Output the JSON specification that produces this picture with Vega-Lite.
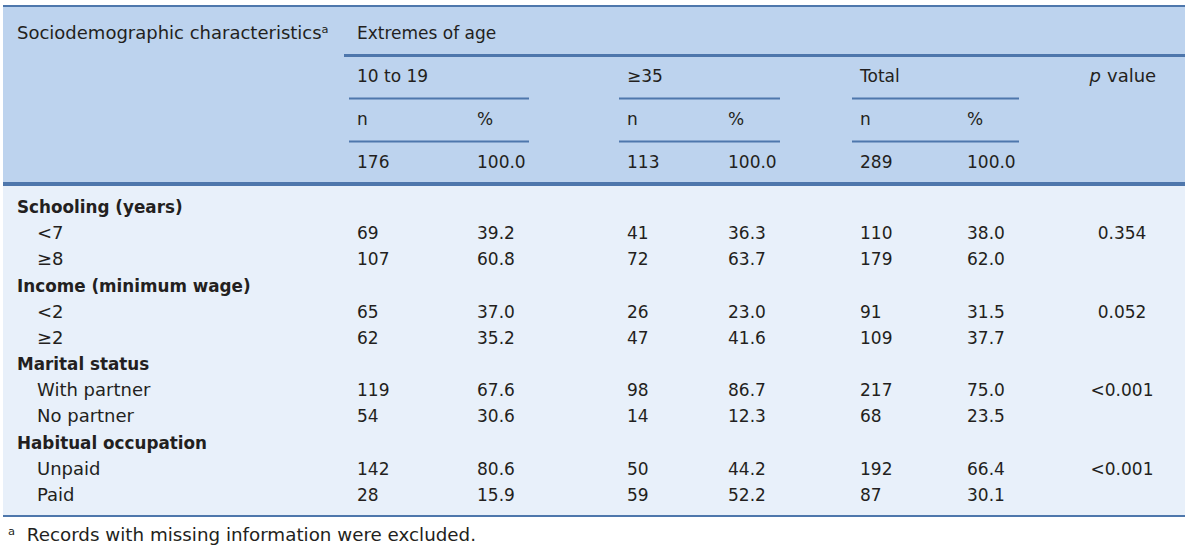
{
  "$schema": "https://vega.github.io/schema/vega-lite/v6.json",
  "width": 1200,
  "height": 551,
  "autosize": {"type": "fit", "contains": "padding"},
  "padding": 0,
  "background": "white",
  "config": {"view": {"stroke": null}, "text": {"font": "DejaVu Sans", "fontSize": 17, "color": "#231F20", "align": "left", "baseline": "middle"}},
  "datasets": {
    "table": [
      {"r": 1, "kind": "head", "label": "Sociodemographic characteristicsᵃ", "n1": "Extremes of age"},
      {"r": 2, "kind": "head", "n1": "10 to 19", "n2": "≥35", "n3": "Total", "pvi": "p", "pvr": "value"},
      {"r": 3, "kind": "head", "n1": "n", "p1": "%", "n2": "n", "p2": "%", "n3": "n", "p3": "%"},
      {"r": 4, "kind": "head", "n1": "176", "p1": "100.0", "n2": "113", "p2": "100.0", "n3": "289", "p3": "100.0"},
      {"r": 5, "kind": "cat", "label": "Schooling (years)"},
      {"r": 6, "kind": "sub", "label": "<7", "n1": "69", "p1": "39.2", "n2": "41", "p2": "36.3", "n3": "110", "p3": "38.0", "pv": "0.354"},
      {"r": 7, "kind": "sub", "label": "≥8", "n1": "107", "p1": "60.8", "n2": "72", "p2": "63.7", "n3": "179", "p3": "62.0"},
      {"r": 8, "kind": "cat", "label": "Income (minimum wage)"},
      {"r": 9, "kind": "sub", "label": "<2", "n1": "65", "p1": "37.0", "n2": "26", "p2": "23.0", "n3": "91", "p3": "31.5", "pv": "0.052"},
      {"r": 10, "kind": "sub", "label": "≥2", "n1": "62", "p1": "35.2", "n2": "47", "p2": "41.6", "n3": "109", "p3": "37.7"},
      {"r": 11, "kind": "cat", "label": "Marital status"},
      {"r": 12, "kind": "sub", "label": "With partner", "n1": "119", "p1": "67.6", "n2": "98", "p2": "86.7", "n3": "217", "p3": "75.0", "pv": "<0.001"},
      {"r": 13, "kind": "sub", "label": "No partner", "n1": "54", "p1": "30.6", "n2": "14", "p2": "12.3", "n3": "68", "p3": "23.5"},
      {"r": 14, "kind": "cat", "label": "Habitual occupation"},
      {"r": 15, "kind": "sub", "label": "Unpaid", "n1": "142", "p1": "80.6", "n2": "50", "p2": "44.2", "n3": "192", "p3": "66.4", "pv": "<0.001"},
      {"r": 16, "kind": "sub", "label": "Paid", "n1": "28", "p1": "15.9", "n2": "59", "p2": "52.2", "n3": "87", "p3": "30.1"},
      {"r": 17, "kind": "note", "label": "ᵃ\u00a0 Records with missing information were excluded."}
    ],
    "columns": [
      {"key": "n1", "c": 1}, {"key": "p1", "c": 2}, {"key": "n2", "c": 3}, {"key": "p2", "c": 4},
      {"key": "n3", "c": 5}, {"key": "p3", "c": 6}, {"key": "pv", "c": 7}
    ],
    "groups": [
      {"group": "10 to 19", "from": 1, "to": 2},
      {"group": "≥35", "from": 3, "to": 4},
      {"group": "Total", "from": 5, "to": 6}
    ]
  },
  "data": {"name": "table"},
  "layer": [
    {
      "mark": {"type": "rect", "color": "#BDD3EE"},
      "encoding": {
        "x": {"datum": -1, "type": "quantitative", "axis": null, "scale": {"type": "linear", "domain": [-1, 0, 1, 2, 3, 4, 5, 6, 7, 8], "range": [3, 17, 357, 477, 627, 728, 860, 967, 1122, 1185], "zero": false, "nice": false}},
        "x2": {"datum": 8},
        "y": {"datum": 0, "type": "quantitative", "axis": null, "scale": {"type": "linear", "domain": [0, 1, 4, 4.5, 5, 16, 16.5, 17], "range": [6, 34, 163, 184, 208, 496, 516, 536], "zero": false, "nice": false}},
        "y2": {"datum": 4.5}
      }
    },
    {
      "mark": {"type": "rect", "color": "#E8F0FA"},
      "encoding": {
        "x": {"datum": -1, "type": "quantitative"},
        "x2": {"datum": 8},
        "y": {"datum": 4.5, "type": "quantitative"},
        "y2": {"datum": 16.5}
      }
    },
    {
      "mark": {"type": "rule", "color": "#4E77AC", "strokeWidth": 2},
      "encoding": {"x": {"datum": -1, "type": "quantitative"}, "x2": {"datum": 8}, "y": {"datum": 0, "type": "quantitative"}}
    },
    {
      "mark": {"type": "rule", "color": "#4E77AC", "strokeWidth": 3},
      "encoding": {"x": {"datum": -1, "type": "quantitative"}, "x2": {"datum": 8}, "y": {"datum": 4.5, "type": "quantitative"}}
    },
    {
      "mark": {"type": "rule", "color": "#4E77AC", "strokeWidth": 2},
      "encoding": {"x": {"datum": -1, "type": "quantitative"}, "x2": {"datum": 8}, "y": {"datum": 16.5, "type": "quantitative"}}
    },
    {
      "mark": {"type": "rule", "color": "#4E77AC", "strokeWidth": 2, "xOffset": -13},
      "encoding": {"x": {"datum": 1, "type": "quantitative"}, "x2": {"datum": 8}, "y": {"datum": 1.5, "type": "quantitative"}}
    },
    {
      "data": {"name": "groups"},
      "mark": {"type": "rule", "color": "#4E77AC", "strokeWidth": 2, "xOffset": -8, "x2Offset": 52},
      "encoding": {"x": {"field": "from", "type": "quantitative"}, "x2": {"field": "to"}, "y": {"datum": 2.5, "type": "quantitative"}}
    },
    {
      "data": {"name": "groups"},
      "mark": {"type": "rule", "color": "#4E77AC", "strokeWidth": 2, "xOffset": -8, "x2Offset": 52},
      "encoding": {"x": {"field": "from", "type": "quantitative"}, "x2": {"field": "to"}, "y": {"datum": 3.5, "type": "quantitative"}}
    },
    {
      "transform": [
        {"fold": ["n1", "p1", "n2", "p2", "n3", "p3"]},
        {"filter": "isValid(datum.value)"},
        {"lookup": "key", "from": {"data": {"name": "columns"}, "key": "key", "fields": ["c"]}}
      ],
      "mark": {"type": "text", "align": "left"},
      "encoding": {"x": {"field": "c", "type": "quantitative"}, "y": {"field": "r", "type": "quantitative"}, "text": {"field": "value"}}
    },
    {
      "transform": [
        {"fold": ["pv"]},
        {"filter": "isValid(datum.value)"},
        {"lookup": "key", "from": {"data": {"name": "columns"}, "key": "key", "fields": ["c"]}}
      ],
      "mark": {"type": "text", "align": "center"},
      "encoding": {"x": {"field": "c", "type": "quantitative"}, "y": {"field": "r", "type": "quantitative"}, "text": {"field": "value"}}
    },
    {
      "transform": [{"filter": "isValid(datum.pvi)"}],
      "mark": {"type": "text", "align": "right", "fontStyle": "italic", "fontSize": 18, "dx": -21},
      "encoding": {"x": {"datum": 7, "type": "quantitative"}, "y": {"field": "r", "type": "quantitative"}, "text": {"field": "pvi"}}
    },
    {
      "transform": [{"filter": "isValid(datum.pvr)"}],
      "mark": {"type": "text", "align": "left", "fontSize": 18, "dx": -15},
      "encoding": {"x": {"datum": 7, "type": "quantitative"}, "y": {"field": "r", "type": "quantitative"}, "text": {"field": "pvr"}}
    },
    {
      "transform": [{"filter": "datum.kind === 'head' && isValid(datum.label)"}],
      "mark": {"type": "text", "align": "left", "fontSize": 18},
      "encoding": {"x": {"datum": 0, "type": "quantitative"}, "y": {"field": "r", "type": "quantitative"}, "text": {"field": "label"}}
    },
    {
      "transform": [{"filter": "datum.kind === 'cat'"}],
      "mark": {"type": "text", "align": "left", "fontWeight": "bold", "fontSize": 16.8},
      "encoding": {"x": {"datum": 0, "type": "quantitative"}, "y": {"field": "r", "type": "quantitative"}, "text": {"field": "label"}}
    },
    {
      "transform": [{"filter": "datum.kind === 'sub'"}],
      "mark": {"type": "text", "align": "left", "fontSize": 18, "dx": 20},
      "encoding": {"x": {"datum": 0, "type": "quantitative"}, "y": {"field": "r", "type": "quantitative"}, "text": {"field": "label"}}
    },
    {
      "transform": [{"filter": "datum.kind === 'note'"}],
      "mark": {"type": "text", "align": "left", "fontSize": 18.3, "dx": -9},
      "encoding": {"x": {"datum": 0, "type": "quantitative"}, "y": {"field": "r", "type": "quantitative"}, "text": {"field": "label"}}
    }
  ]
}
